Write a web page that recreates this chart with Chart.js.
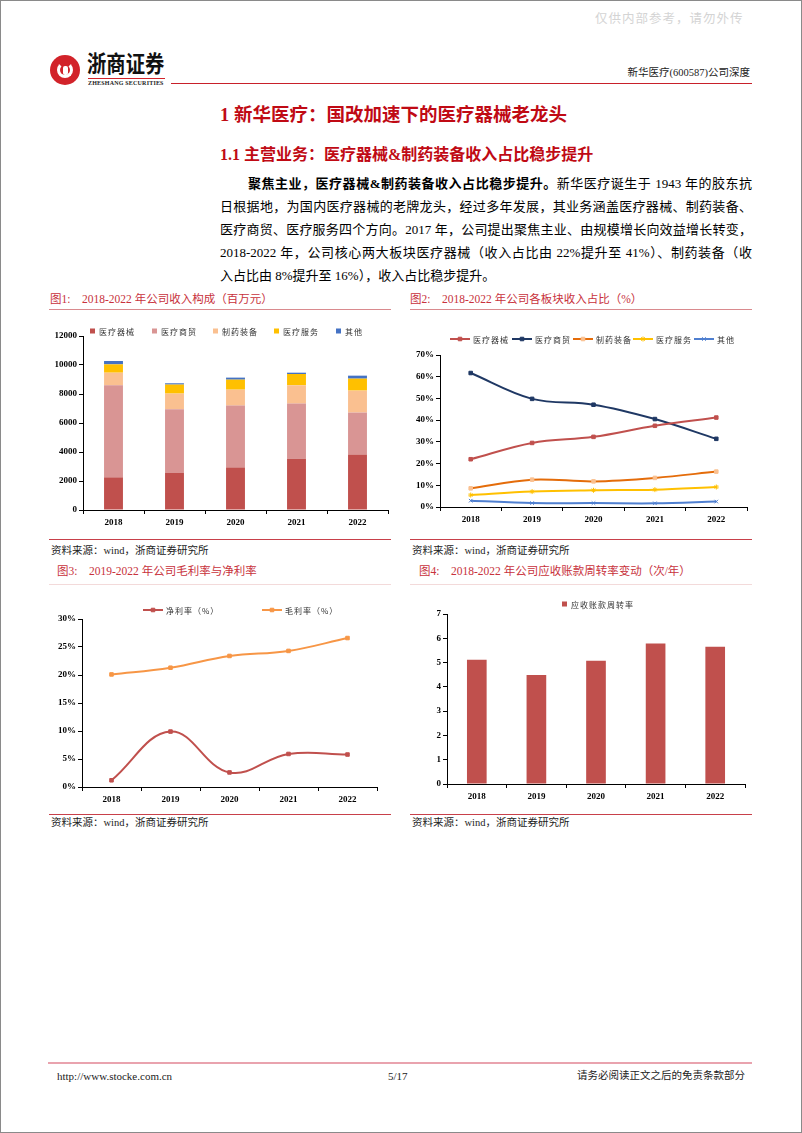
<!DOCTYPE html>
<html><head><meta charset="utf-8">
<script src="https://cdn.jsdelivr.net/npm/chart.js@4.4.0/dist/chart.umd.min.js"></script>
<style>
html,body{margin:0;padding:0;background:#fff;}
body{width:802px;height:1133px;position:relative;overflow:hidden;font-family:"Liberation Serif","Noto Sans CJK SC",serif;color:#000;}
.abs{position:absolute;white-space:nowrap;}
.frame{position:absolute;left:0;top:0;width:802px;height:1133px;box-sizing:border-box;border:1px solid #8a8a8a;pointer-events:none;}
.hl{position:absolute;height:0;}
.ttl{color:#C00A14;font-weight:bold;}
.para{position:absolute;font-size:13px;line-height:23px;height:23px;text-align:justify;text-align-last:justify;white-space:nowrap;}
.fig{position:absolute;font-size:11.5px;color:#C8323C;line-height:14px;white-space:nowrap;}
.src{position:absolute;font-size:10.5px;color:#222;line-height:13px;white-space:nowrap;}
canvas{position:absolute;}
</style></head>
<body>
<div class="frame"></div>
<div class="abs" style="left:595px;top:8px;font-size:12.5px;color:#d4d4d4;font-family:'Noto Sans CJK SC';letter-spacing:1px;">仅供内部参考，请勿外传</div>

<!-- logo -->
<div class="abs" style="left:50px;top:55px;width:30px;height:30px;border-radius:50%;background:#D2232A;"></div>
<div class="abs" style="left:57px;top:62px;width:16px;height:16px;border-radius:50%;border:3px solid #fff;box-sizing:border-box;border-top-color:transparent;"></div>
<div class="abs" style="left:62.5px;top:66px;width:5px;height:9px;background:#fff;border-radius:2px;"></div>
<div class="abs" style="left:87px;top:49px;font-size:23px;line-height:27px;font-weight:bold;font-family:'Noto Sans CJK SC';color:#111;transform:scaleX(0.84);transform-origin:0 0;">浙商证券</div>
<div class="hl" style="left:88px;top:78px;width:77px;border-top:1px solid #D2232A;"></div>
<div class="abs" style="left:88px;top:79.5px;font-size:6px;line-height:7px;font-weight:bold;color:#222;letter-spacing:0.2px;">ZHESHANG SECURITIES</div>
<div class="abs" style="right:52px;top:66px;font-size:10.5px;line-height:14px;color:#222;">新华医疗(600587)公司深度</div>
<div class="hl" style="left:171px;top:83px;width:581px;border-top:1.5px solid #C8202A;"></div>

<div class="abs ttl" style="left:220px;top:103px;font-size:18.5px;line-height:24px;font-family:'Liberation Serif','Noto Sans CJK SC';">1 新华医疗：国改加速下的医疗器械老龙头</div>
<div class="abs ttl" style="left:220px;top:144px;font-size:16px;line-height:22px;">1.1 主营业务：医疗器械&amp;制药装备收入占比稳步提升</div>

<div class="para" style="left:248px;top:172px;width:504px;"><b>聚焦主业，医疗器械&amp;制药装备收入占比稳步提升。</b>新华医疗诞生于 1943 年的胶东抗</div>
<div class="para" style="left:220px;top:195px;width:532px;">日根据地，为国内医疗器械的老牌龙头，经过多年发展，其业务涵盖医疗器械、制药装备、</div>
<div class="para" style="left:220px;top:218px;width:532px;">医疗商贸、医疗服务四个方向。2017 年，公司提出聚焦主业、由规模增长向效益增长转变，</div>
<div class="para" style="left:220px;top:241px;width:532px;">2018-2022 年，公司核心两大板块医疗器械（收入占比由 22%提升至 41%）、制药装备（收</div>
<div class="para" style="left:220px;top:264px;width:532px;text-align:left;text-align-last:left;">入占比由 8%提升至 16%），收入占比稳步提升。</div>

<!-- figure titles -->
<div class="fig" style="left:50px;top:292px;">图1:&nbsp;&nbsp;&nbsp;&nbsp;2018-2022 年公司收入构成（百万元）</div>
<div class="fig" style="left:410px;top:292px;">图2:&nbsp;&nbsp;&nbsp;&nbsp;2018-2022 年公司各板块收入占比（%）</div>
<div class="hl" style="left:49px;top:309px;width:342px;border-top:1px solid #D98A8E;"></div>
<div class="hl" style="left:410px;top:309px;width:342px;border-top:1px solid #D98A8E;"></div>

<canvas id="c1" width="344" height="226" style="left:48px;top:312px;"></canvas>
<canvas id="c2" width="342" height="226" style="left:410px;top:312px;"></canvas>

<div class="hl" style="left:49px;top:539px;width:342px;border-top:1.5px solid #C8404A;"></div>
<div class="hl" style="left:410px;top:539px;width:342px;border-top:1.5px solid #C8404A;"></div>
<div class="src" style="left:51px;top:544px;">资料来源：wind，浙商证券研究所</div>
<div class="src" style="left:412px;top:544px;">资料来源：wind，浙商证券研究所</div>

<div class="fig" style="left:57px;top:564px;">图3:&nbsp;&nbsp;&nbsp;&nbsp;2019-2022 年公司毛利率与净利率</div>
<div class="fig" style="left:419px;top:564px;">图4:&nbsp;&nbsp;&nbsp;&nbsp;2018-2022 年公司应收账款周转率变动（次/年）</div>
<div class="hl" style="left:49px;top:584px;width:342px;border-top:1px solid #F3DADA;"></div>
<div class="hl" style="left:410px;top:584px;width:342px;border-top:1px solid #F3DADA;"></div>

<canvas id="c3" width="344" height="226" style="left:48px;top:586px;"></canvas>
<canvas id="c4" width="342" height="226" style="left:410px;top:586px;"></canvas>

<div class="hl" style="left:49px;top:814px;width:342px;border-top:1.5px solid #C8404A;"></div>
<div class="hl" style="left:410px;top:814px;width:342px;border-top:1.5px solid #C8404A;"></div>
<div class="src" style="left:51px;top:816px;">资料来源：wind，浙商证券研究所</div>
<div class="src" style="left:412px;top:816px;">资料来源：wind，浙商证券研究所</div>

<!-- footer -->
<div class="hl" style="left:48px;top:1062px;width:704px;border-top:2px solid #E9A3AE;"></div>
<div class="abs" style="left:57px;top:1069px;font-size:11px;line-height:14px;color:#222;">http://www.stocke.com.cn</div>
<div class="abs" style="left:388px;top:1069px;font-size:11px;line-height:14px;color:#222;">5/17</div>
<div class="abs" style="right:57px;top:1069px;font-size:10.5px;line-height:14px;color:#222;">请务必阅读正文之后的免责条款部分</div>

<script>
// ===== data =====
const years = ['2018', '2019', '2020', '2021', '2022'];

// Fig 1: revenue composition (million yuan)
const revDevice  = [2250, 2570, 2935, 3530, 3830];
const revTrade   = [6350, 4380, 4265, 3810, 2890];
const revPharma  = [870, 1080, 1100, 1260, 1515];
const revService = [575, 620, 690, 780, 825];
const revOther   = [230, 90, 140, 90, 205];

// Fig 2: revenue share by segment (%)
const shareDevice  = [22.0, 29.5, 32.3, 37.4, 41.2];
const shareTrade   = [61.7, 49.8, 47.1, 40.5, 31.4];
const sharePharma  = [8.6, 12.6, 11.8, 13.4, 16.3];
const shareService = [5.5, 7.1, 7.7, 8.0, 9.2];
const shareOther   = [2.9, 1.8, 1.8, 1.7, 2.5];

// Fig 3: margins (%)
const netMargin   = [1.2, 9.9, 2.6, 5.9, 5.8];
const grossMargin = [20.1, 21.3, 23.4, 24.3, 26.6];

// Fig 4: receivables turnover (times/year)
const arTurnover = [5.12, 4.49, 5.08, 5.79, 5.65];

const segNames = ['医疗器械', '医疗商贸', '制药装备', '医疗服务', '其他'];
const marginNames = ['净利率（%）', '毛利率（%）'];
const turnoverName = '应收账款周转率';

// ===== helpers =====
const tickFont = {family: "'Liberation Serif', serif", weight: 'bold', size: 9};

const customLegend = {
  id: 'customLegend',
  afterDraw(chart, args, opts) {
    if (!opts || !opts.xs) return;
    const ctx = chart.ctx;
    ctx.save();
    ctx.font = "8px 'Noto Sans CJK SC'";
    try { ctx.letterSpacing = '1px'; } catch (e) {}
    ctx.textBaseline = 'middle';
    chart.data.datasets.forEach((ds, i) => {
      const x = opts.xs[i], y = opts.y;
      let tx;
      if (opts.kind === 'box') {
        ctx.fillStyle = ds.backgroundColor;
        ctx.fillRect(x, y - 2.5, 5, 5);
        tx = x + 9;
      } else {
        ctx.strokeStyle = ds.borderColor;
        ctx.lineWidth = 2;
        ctx.beginPath(); ctx.moveTo(x, y); ctx.lineTo(x + 20, y); ctx.stroke();
        ctx.fillStyle = ds.pointBackgroundColor || ds.borderColor;
        ctx.strokeStyle = ds.pointBorderColor || ds.borderColor;
        ctx.lineWidth = 1;
        Chart.helpers.drawPoint(ctx, {pointStyle: ds.pointStyle, radius: 2.5, borderWidth: 1, rotation: 0}, x + 10, y);
        tx = x + 23;
      }
      ctx.fillStyle = '#333';
      ctx.fillText(ds.label, tx, y + 0.5);
    });
    ctx.restore();
  }
};

function makeScales(o) {
  return {
    x: {
      offset: true,
      stacked: !!o.stacked,
      grid: {display: true, drawOnChartArea: false, drawTicks: true, tickLength: 4, color: '#000', offset: true},
      border: {display: true, color: '#000', width: 1},
      ticks: {font: tickFont, color: '#000', padding: 3, maxRotation: 0, autoSkip: false},
      afterFit(s) { s.height = o.xh; }
    },
    y: {
      stacked: !!o.stacked,
      min: 0, max: o.max,
      grid: {display: true, drawOnChartArea: false, drawTicks: true, tickLength: 4, color: '#000'},
      border: {display: true, color: '#000', width: 1},
      ticks: {stepSize: o.step, font: tickFont, color: '#000', padding: 2, callback: o.fmt},
      afterFit(s) { s.width = o.yw; }
    }
  };
}

function baseOptions(o, legend) {
  return {
    responsive: false,
    animation: false,
    devicePixelRatio: 1,
    layout: {padding: {top: o.pt, right: o.pr, bottom: 0, left: 0}},
    plugins: {legend: {display: false}, tooltip: {enabled: false}, customLegend: legend},
    scales: makeScales(o)
  };
}

// ===== Fig 1 =====
const segColors = ['#C0504D', '#D99594', '#FAC090', '#FFC000', '#4472C4'];
const revSeries = [revDevice, revTrade, revPharma, revService, revOther];
new Chart(document.getElementById('c1'), {
  type: 'bar',
  data: {
    labels: years,
    datasets: revSeries.map((d, i) => ({
      label: segNames[i], data: d, backgroundColor: segColors[i],
      barPercentage: 0.31, categoryPercentage: 1.0, borderWidth: 0
    }))
  },
  options: baseOptions({stacked: true, max: 12000, step: 2000, fmt: v => String(v), yw: 35, xh: 28, pt: 24, pr: 4},
                       {kind: 'box', y: 19, xs: [42, 104, 165, 226, 288]}),
  plugins: [customLegend]
});

// ===== Fig 2 =====
const shareSeries = [shareDevice, shareTrade, sharePharma, shareService, shareOther];
const lineColors2 = ['#C0504D', '#1F3864', '#E46C0A', '#FFC000', '#4F7FD0'];
const pointColors2 = ['#C0504D', '#1F3864', '#FAC090', '#FFC000', '#4F7FD0'];
const pointStyles2 = ['rect', 'rect', 'rect', 'star', 'crossRot'];
new Chart(document.getElementById('c2'), {
  type: 'line',
  data: {
    labels: years,
    datasets: shareSeries.map((d, i) => ({
      label: segNames[i], data: d, borderColor: lineColors2[i], borderWidth: 2,
      pointStyle: pointStyles2[i], pointRadius: 2.5, pointBorderWidth: 1,
      pointBackgroundColor: pointColors2[i], pointBorderColor: pointColors2[i],
      tension: 0.35, fill: false
    }))
  },
  options: baseOptions({max: 70, step: 10, fmt: v => v + '%', yw: 30, xh: 31, pt: 43, pr: 5},
                       {kind: 'line', y: 27, xs: [40, 102, 163, 223, 284]}),
  plugins: [customLegend]
});

// ===== Fig 3 =====
const marginSeries = [netMargin, grossMargin];
const marginColors = ['#C0504D', '#F79646'];
new Chart(document.getElementById('c3'), {
  type: 'line',
  data: {
    labels: years,
    datasets: marginSeries.map((d, i) => ({
      label: marginNames[i], data: d, borderColor: marginColors[i], borderWidth: 2,
      pointStyle: 'rect', pointRadius: 2.5, pointBorderWidth: 1,
      pointBackgroundColor: marginColors[i], pointBorderColor: marginColors[i],
      tension: 0.4, fill: false
    }))
  },
  options: baseOptions({max: 30, step: 5, fmt: v => v + '%', yw: 34, xh: 25, pt: 33, pr: 15},
                       {kind: 'line', y: 24, xs: [95, 214]}),
  plugins: [customLegend]
});

// ===== Fig 4 =====
new Chart(document.getElementById('c4'), {
  type: 'bar',
  data: {
    labels: years,
    datasets: [{label: turnoverName, data: arTurnover, backgroundColor: '#C0504D',
                barPercentage: 0.33, categoryPercentage: 1.0, borderWidth: 0}]
  },
  options: baseOptions({max: 7, step: 1, fmt: v => String(v), yw: 37, xh: 28, pt: 28, pr: 7},
                       {kind: 'box', y: 18, xs: [152]}),
  plugins: [customLegend]
});
</script>
</body></html>
